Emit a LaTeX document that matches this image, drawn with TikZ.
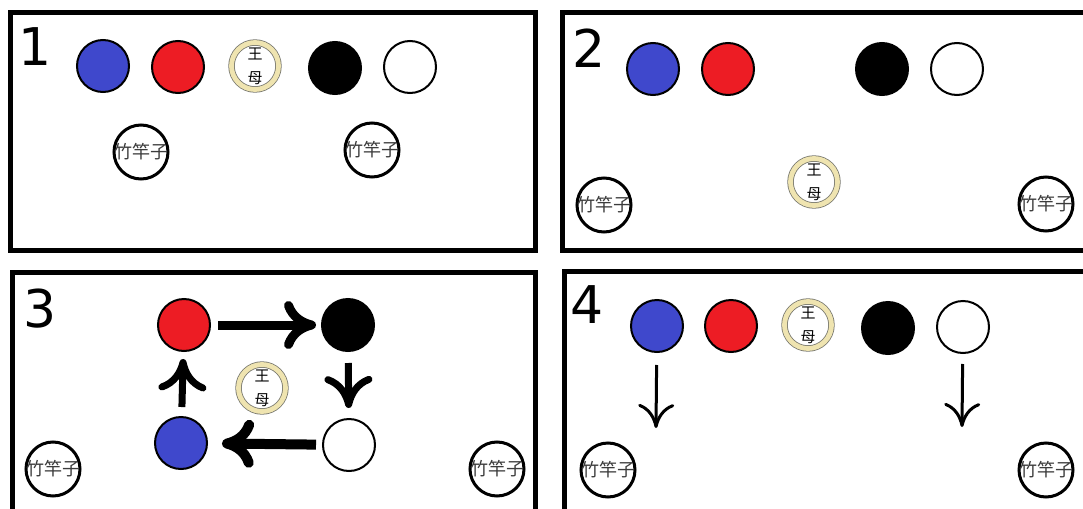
\documentclass[tikz,border=0pt]{standalone}
\usepackage{fontspec}
\newfontfamily\cjk{Noto Sans CJK SC}
\newfontfamily\numfont{DejaVu Sans}
\usetikzlibrary{arrows.meta}
\definecolor{pieceblue}{RGB}{63,72,204}
\definecolor{piecered}{RGB}{237,28,36}
\definecolor{ringbeige}{RGB}{239,228,176}
\definecolor{ringedge}{RGB}{120,120,110}
\definecolor{polegray}{RGB}{60,60,60}

\begin{document}
\begin{tikzpicture}[x=0.5pt,y=-0.5pt,
  piece/.style={circle,draw=black,line width=1pt,minimum size=26pt,inner sep=0pt},
  pole/.style={circle,draw=black,line width=1.5pt,fill=white,minimum size=27pt,inner sep=0pt},
  poletext/.style={font=\cjk\fontsize{9}{9}\selectfont,text=polegray,inner sep=0pt},
  queen/.style={circle,draw=ringedge,line width=0.4pt,double=ringbeige,double distance=2.4pt,
    fill=white,minimum size=23.5pt,inner sep=0pt,align=center,font=\cjk\fontsize{7.5}{12}\selectfont},
  panel/.style={line width=2.5pt},
  num/.style={anchor=base west,font=\numfont\fontsize{26}{26}\selectfont,inner sep=0pt},
  movearrow/.style={line width=4.5pt,-{To[length=16pt,width=24pt]}},
  droparrow/.style={line width=1.5pt,-{To[length=12pt,width=18pt]}}]
  % Canvas 1083x509 px (1px = 0.5pt)
  \useasboundingbox (0,0) rectangle (1083,509);
  \clip (0,0) rectangle (1083,509);

  % --- Panel frames ---
  \draw[panel] (10.5,12.5) rectangle (535,250.5);
  \draw[panel] (562.5,12.5) rectangle (1100,250.5);
  \draw[panel] (12.5,272.5) rectangle (535.5,530);
  \draw[panel] (564.5,271.5) rectangle (1100,530);

  % --- Panel 1: all in a row ---
  \node[num] (n1) at (18,65) {1};
  \node[piece,fill=pieceblue] (p1blue) at (103,66) {};
  \node[piece,fill=piecered] (p1red) at (178,67) {};
  \node[queen] (p1wm) at (255,66) {王\\母};
  \node[piece,fill=black] (p1black) at (335,68) {};
  \node[piece,fill=white] (p1white) at (410,67) {};
  \node[pole,label={[poletext]center:竹竿子}] (p1pa) at (141,152) {};
  \node[pole,label={[poletext]center:竹竿子}] (p1pb) at (372,150) {};

  % --- Panel 2: queen steps down ---
  \node[num] (n2) at (572,67) {2};
  \node[piece,fill=pieceblue] (p2blue) at (653,69) {};
  \node[piece,fill=piecered] (p2red) at (728,69) {};
  \node[piece,fill=black] (p2black) at (882,69) {};
  \node[piece,fill=white] (p2white) at (957,69) {};
  \node[queen] (p2wm) at (814,182) {王\\母};
  \node[pole,label={[poletext]center:竹竿子}] (p2pa) at (604,205) {};
  \node[pole,label={[poletext]center:竹竿子}] (p2pb) at (1046,204) {};

  % --- Panel 3: circling the queen ---
  \node[num] (n3) at (23,327) {3};
  \node[piece,fill=piecered] (p3red) at (184,325) {};
  \node[piece,fill=black] (p3black) at (348,325) {};
  \node[piece,fill=white] (p3white) at (349,445) {};
  \node[piece,fill=pieceblue] (p3blue) at (181,443) {};
  \node[queen] (p3wm) at (262,388) {王\\母};
  \node[pole,label={[poletext]center:竹竿子}] (p3pa) at (53,469) {};
  \node[pole,label={[poletext]center:竹竿子}] (p3pb) at (497,469) {};
  \draw[movearrow,shorten <=3.5pt,shorten >=2.5pt] (p3red) -- (p3black);
  \draw[movearrow,line width=3.5pt,shorten <=5.5pt,shorten >=5pt] (p3black) -- (p3white);
  \draw[movearrow,line width=5pt,shorten <=3pt,shorten >=7pt] (p3white) -- (p3blue);
  \draw[movearrow,line width=3.5pt,shorten <=4.5pt,shorten >=3.5pt] (p3blue) -- (p3red);

  % --- Panel 4: back in a row ---
  \node[num] (n4) at (570,323) {4};
  \node[piece,fill=pieceblue] (p4blue) at (657,326) {};
  \node[piece,fill=piecered] (p4red) at (731,326) {};
  \node[queen] (p4wm) at (808,325) {王\\母};
  \node[piece,fill=black] (p4black) at (888,328) {};
  \node[piece,fill=white] (p4white) at (963,327) {};
  \node[pole,label={[poletext]center:竹竿子}] (p4pa) at (608,470) {};
  \node[pole,label={[poletext]center:竹竿子}] (p4pb) at (1046,470) {};
  \coordinate (p4da) at (656,428);
  \coordinate (p4db) at (962,427);
  \draw[droparrow,shorten <=6pt] (p4blue) -- (p4da);
  \draw[droparrow,shorten <=5pt] (p4white) -- (p4db);

\end{tikzpicture}
\end{document}
